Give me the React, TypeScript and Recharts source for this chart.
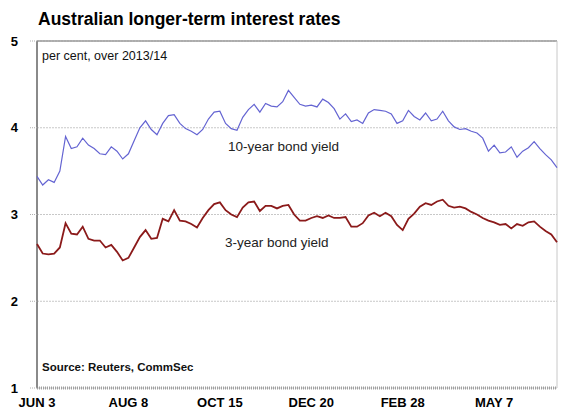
import React from "react";
import { LineChart, Line, XAxis, YAxis, CartesianGrid, ReferenceLine } from "recharts";

const tickLabels = ["JUN 3", "AUG 8", "OCT 15", "DEC 20", "FEB 28", "MAY 7"];
const tickIdx = [0, 16, 32, 48, 64, 80];

const yield10 = [
  3.44, 3.34, 3.4, 3.37, 3.5, 3.9, 3.76, 3.78, 3.88, 3.8,
  3.76, 3.7, 3.69, 3.78, 3.73, 3.64, 3.7, 3.85, 4.0, 4.08,
  3.98, 3.92, 4.05, 4.14, 4.15, 4.05, 3.99, 3.96, 3.92, 3.98,
  4.1, 4.18, 4.19, 4.05, 3.99, 3.97, 4.12, 4.21, 4.27, 4.18,
  4.28, 4.25, 4.24, 4.3, 4.43, 4.35, 4.27, 4.25, 4.26, 4.24,
  4.33, 4.29, 4.22, 4.1, 4.16, 4.07, 4.09, 4.05, 4.17, 4.21,
  4.2, 4.19, 4.16, 4.05, 4.08, 4.2, 4.13, 4.09, 4.17, 4.08,
  4.1, 4.19, 4.08, 4.01, 3.98, 3.99, 3.96, 3.94, 3.88, 3.73,
  3.8, 3.71, 3.72, 3.78, 3.66, 3.73, 3.77, 3.84, 3.76, 3.69,
  3.63, 3.54,
];

const yield3 = [
  2.66, 2.55, 2.54, 2.55, 2.62, 2.9, 2.78, 2.77, 2.86, 2.72,
  2.7, 2.7, 2.62, 2.65, 2.57, 2.47, 2.5, 2.62, 2.74, 2.82,
  2.72, 2.73, 2.95, 2.92, 3.05, 2.93, 2.92, 2.89, 2.85, 2.96,
  3.05, 3.12, 3.14, 3.05, 3.0, 2.97, 3.08, 3.14, 3.15, 3.04,
  3.1, 3.1, 3.07, 3.1, 3.11, 3.0, 2.93, 2.93, 2.96, 2.98,
  2.96, 2.99, 2.96, 2.96, 2.97, 2.86, 2.86, 2.9, 2.99, 3.02,
  2.98, 3.02, 2.98, 2.88, 2.82, 2.95, 3.01, 3.09, 3.13, 3.11,
  3.15, 3.17, 3.1, 3.08, 3.09, 3.07, 3.03, 3.0, 2.96, 2.93,
  2.91, 2.88, 2.89, 2.84, 2.89, 2.87, 2.91, 2.92, 2.86, 2.81,
  2.77, 2.68,
];

const yTicks = [1, 2, 3, 4, 5];

const data = yield10.map((v, i) => ({ i, y10: v, y3: yield3[i] }));
const lastIdx = data.length - 1;

const font = "Arial, 'Liberation Sans', sans-serif";

export default function App() {
  return (
    <div style={{ position: "absolute", left: 0, top: 0, width: 568, height: 412, background: "#fff", fontFamily: font }}>
      <LineChart
        width={568}
        height={412}
        data={data}
        margin={{ top: 41, right: 11, left: 0, bottom: 0 }}
      >
        <CartesianGrid vertical={false} stroke="#c8c8c8" strokeDasharray="2 1" />
        <XAxis
          dataKey="i"
          type="number"
          domain={[0, lastIdx]}
          ticks={tickIdx}
          tickFormatter={(v: number) => tickLabels[tickIdx.indexOf(v)] ?? ""}
          axisLine={false}
          tickLine={false}
          height={24}
          tickMargin={4}
          tick={{ fontSize: 13, fontWeight: "bold", fill: "#000", fontFamily: font }}
          interval={0}
        />
        <YAxis
          domain={[1, 5]}
          ticks={yTicks}
          width={37}
          axisLine={false}
          tickSize={7}
          tickLine={{ stroke: "#b0b0b0", strokeDasharray: "1 1" }}
          tickMargin={12}
          tick={{ fontSize: 13, fontWeight: "bold", fill: "#000", fontFamily: font }}
          allowDataOverflow
        />
        <ReferenceLine y={5} stroke="#9a9a9a" strokeWidth={1.5} />
        <ReferenceLine y={1} stroke="#a0a0a0" strokeWidth={3} strokeDasharray="1 1" />
        <ReferenceLine x={0} stroke="#8a8a8a" strokeWidth={2} />
        <ReferenceLine x={lastIdx} stroke="#c8c8c8" strokeWidth={1} />
        <Line dataKey="y10" stroke="#6464d2" strokeWidth={1.2} dot={false} isAnimationActive={false} type="linear" />
        <Line dataKey="y3" stroke="#8b1a1a" strokeWidth={1.8} dot={false} isAnimationActive={false} type="linear" />
      </LineChart>
      <div style={{ position: "absolute", left: 38, top: 9, fontSize: 17.5, fontWeight: "bold", color: "#000", whiteSpace: "nowrap" }}>
        Australian longer-term interest rates
      </div>
      <div style={{ position: "absolute", left: 42, top: 49, fontSize: 12.5, color: "#111", whiteSpace: "nowrap" }}>
        per cent, over 2013/14
      </div>
      <div style={{ position: "absolute", left: 42, top: 361, fontSize: 11.5, fontWeight: "bold", color: "#111", whiteSpace: "nowrap" }}>
        Source: Reuters, CommSec
      </div>
      <div style={{ position: "absolute", left: 228, top: 139, fontSize: 13.5, color: "#222", whiteSpace: "nowrap" }}>
        10-year bond yield
      </div>
      <div style={{ position: "absolute", left: 225, top: 235, fontSize: 13.5, color: "#222", whiteSpace: "nowrap" }}>
        3-year bond yield
      </div>
    </div>
  );
}
